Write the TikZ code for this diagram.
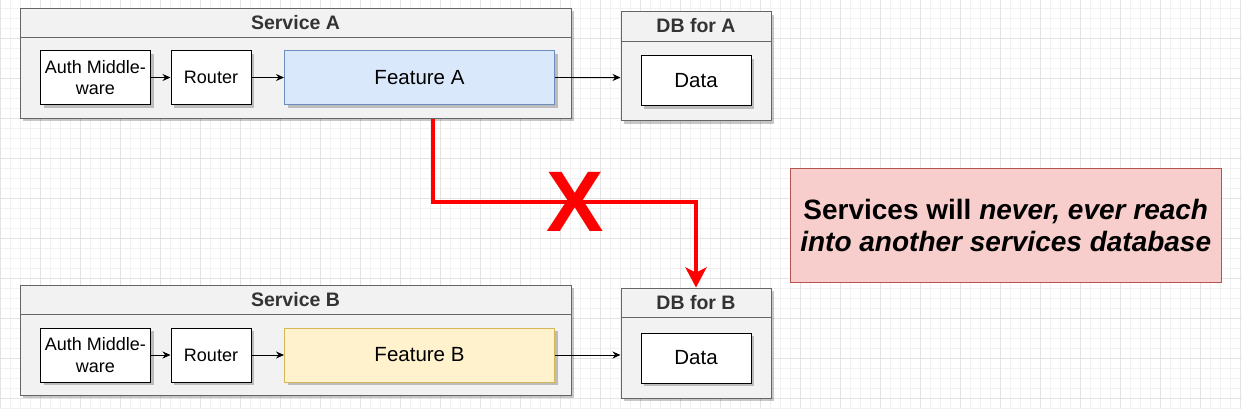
\documentclass[tikz,border=0pt]{standalone}
\usepackage{fontspec}
\setmainfont{Liberation Sans}
\usetikzlibrary{arrows.meta,shadows}

\definecolor{boxgrey}{HTML}{F3F2F2}
\definecolor{edgegrey}{HTML}{666666}
\definecolor{titlegrey}{HTML}{333333}
\definecolor{featblue}{HTML}{DAE8FC}
\definecolor{featblueedge}{HTML}{6C8EBF}
\definecolor{featyellow}{HTML}{FFF2CC}
\definecolor{featyellowedge}{HTML}{D6B656}
\definecolor{notered}{HTML}{F8CECC}
\definecolor{noterededge}{HTML}{B85450}
\definecolor{gridminor}{HTML}{F1F1F1}
\definecolor{gridmajor}{HTML}{E3E3E3}

\tikzset{
    boxshadow/.style={drop shadow={shadow xshift=3pt, shadow yshift=-3pt, opacity=0.22, fill=black}},
    container/.style={draw=edgegrey, fill=boxgrey, line width=1pt, inner sep=0pt, anchor=north west, boxshadow},
    title/.style={text=titlegrey, font=\fontsize{19.5}{22}\selectfont\bfseries},
    inner/.style={draw=black, fill=white, line width=1pt, inner sep=0pt, anchor=north west, align=center,
        font=\fontsize{18}{21.5}\selectfont, boxshadow},
    flow/.style={-{Stealth[length=8pt,width=7pt]}, line width=1pt},
    redflow/.style={-{Stealth[length=20pt,width=21pt,inset=5pt]}, red, line width=4pt},
}

\begin{document}
\begin{tikzpicture}[x=1pt, y=-1pt]
    % Canvas, sized in pixels of the reference
    \useasboundingbox (0,0) rectangle (1242,408);
    \fill[white] (0,0) rectangle (1242,408);
    \begin{scope}[yshift=2pt]
        \draw[gridminor, line width=0.8pt, step=10pt] (0,-2) grid (1242,410);
        \draw[gridmajor, line width=0.8pt, step=40pt] (0,-2) grid (1242,410);
    \end{scope}

    % Service A and its pipeline
    \node[container, minimum width=551, minimum height=110] (svcA) at (19.5,7.5) {};
    \draw[edgegrey, line width=1pt] ([yshift=-30pt]svcA.north west) -- ([yshift=-30pt]svcA.north east);
    \node[title] (svcAtitle) at ([yshift=-15pt]svcA.north) {Service A};
    \node[inner, minimum width=110, minimum height=54] (authA) at (40,50) {Auth Middle-\\ware};
    \node[inner, minimum width=80, minimum height=54] (routerA) at (170.5,50) {Router};
    \node[inner, minimum width=270, minimum height=54, fill=featblue, draw=featblueedge,
        font=\fontsize{20.5}{24}\selectfont] (featA) at (284,50) {Feature A};

    % Database of A
    \node[container, minimum width=150, minimum height=109] (dbA) at (620.5,11) {};
    \draw[edgegrey, line width=1pt] ([yshift=-30pt]dbA.north west) -- ([yshift=-30pt]dbA.north east);
    \node[title] (dbAtitle) at ([yshift=-15pt]dbA.north) {DB for A};
    \node[inner, minimum width=110, minimum height=50, font=\fontsize{20.5}{24}\selectfont] (dataA) at (640.5,55) {Data};

    % Service B and its pipeline
    \node[container, minimum width=551, minimum height=110] (svcB) at (19.5,284.5) {};
    \draw[edgegrey, line width=1pt] ([yshift=-30pt]svcB.north west) -- ([yshift=-30pt]svcB.north east);
    \node[title] (svcBtitle) at ([yshift=-15pt]svcB.north) {Service B};
    \node[inner, minimum width=110, minimum height=54] (authB) at (40,327.5) {Auth Middle-\\ware};
    \node[inner, minimum width=80, minimum height=54] (routerB) at (170.5,327.5) {Router};
    \node[inner, minimum width=270, minimum height=54, fill=featyellow, draw=featyellowedge,
        font=\fontsize{20.5}{24}\selectfont] (featB) at (284,327.5) {Feature B};

    % Database of B
    \node[container, minimum width=150, minimum height=110] (dbB) at (620.5,287.5) {};
    \draw[edgegrey, line width=1pt] ([yshift=-30pt]dbB.north west) -- ([yshift=-30pt]dbB.north east);
    \node[title] (dbBtitle) at ([yshift=-15pt]dbB.north) {DB for B};
    \node[inner, minimum width=110, minimum height=50, font=\fontsize{20.5}{24}\selectfont] (dataB) at (640.5,332.5) {Data};

    % Calls inside each service
    \draw[flow] (authA) -- (routerA);
    \draw[flow] (routerA) -- (featA);
    \draw[flow] (featA.east) -- (featA.east -| dbA.west);
    \draw[flow] (authB) -- (routerB);
    \draw[flow] (routerB) -- (featB);
    \draw[flow] (featB.east) -- (featB.east -| dbB.west);

    % Forbidden reach from A into the database of B
    \coordinate (exitA) at ([xshift=137.5pt]svcA.south);
    \coordinate (crossing) at (575,201.5);
    \draw[redflow] (exitA) |- (crossing) -| (dbB.north);
    \node[red, font=\fontsize{86}{86}\selectfont\bfseries, inner sep=0pt] (cross) at (crossing) {X};

    % The rule
    \node[draw=noterededge, fill=notered, line width=1pt, anchor=north west, inner sep=0pt,
        minimum width=430.5, minimum height=114.5, align=center,
        font=\fontsize{28}{31.5}\selectfont\bfseries] (rule) at (790,167.5)
        {Services will \textit{never, ever reach}\\\textit{into another services database}};
\end{tikzpicture}
\end{document}
